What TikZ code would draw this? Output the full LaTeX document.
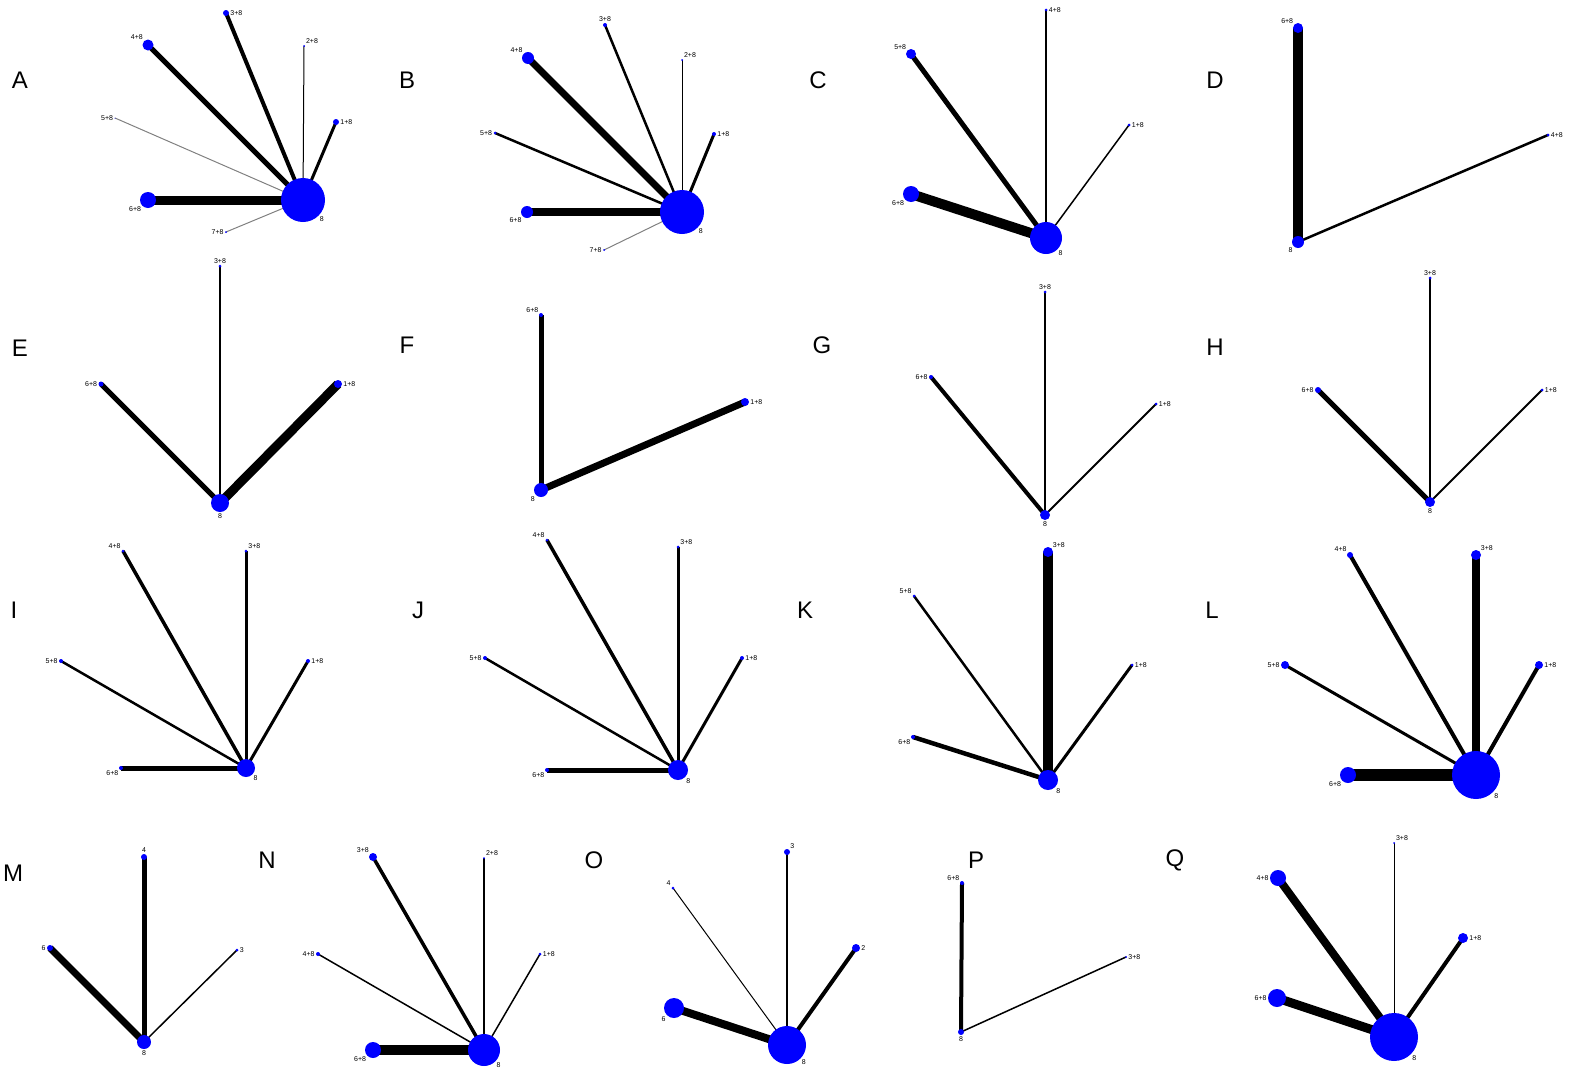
\documentclass[tikz,border=0pt]{standalone}
\usepackage{fontspec}
\setmainfont{Liberation Sans}
\usetikzlibrary{backgrounds}
\tikzset{nd/.style={circle,fill=blue,inner sep=0pt},
 lbl/.style={font=\fontsize{7}{8}\selectfont,inner sep=1pt,label distance=0pt},
 let/.style={font=\fontsize{24}{26}\selectfont,inner sep=0pt},
 eg/.style={black},
 gy/.style={gray,line width=1pt}}
\newcommand\nd[4]{\node[nd,minimum size=#3pt] (#1) at (#2) [label={[lbl]#4}] {};}
\newcommand\ed[3]{\draw[eg,line width=#3pt] (#1.center) -- (#2.center);}
\begin{document}
\begin{tikzpicture}[x=1pt,y=-1pt]
\useasboundingbox (0,0) rectangle (1584,1087);
% letters
\foreach \t/\x/\y in {A/20/80,B/407/80,C/818/80,D/1215/80,E/20/348,F/407/345,G/822/345,H/1215/347,I/14/610,J/418/610,K/805/610,L/1212/610,M/13/873,N/267/860,O/594/860,P/976/860,Q/1175/860}
  \node[let] (L\t) at (\x,\y) {\t};
% A
\nd{a8}{303,200}{44}{below right:8}
\nd{a4}{148,45}{11}{above left:4+8}
\nd{a3}{226,13}{6}{right:3+8}
\nd{a2}{304,46}{2}{above right:2+8}
\nd{a1}{336,122}{6}{right:1+8}
\nd{a5}{115,118}{1}{left:5+8}
\nd{a6}{148,200}{16}{below left:6+8}
\nd{a7}{226,232}{2}{left:7+8}
% B
\nd{b8}{682,212}{44}{below right:8}
\nd{b4}{528,58}{12}{above left:4+8}
\nd{b3}{605,25}{4}{above:3+8}
\nd{b2}{682,60}{2}{above right:2+8}
\nd{b1}{714,134}{4}{right:1+8}
\nd{b5}{495,133}{3}{left:5+8}
\nd{b6}{527,212}{12}{below left:6+8}
\nd{b7}{604,250}{2}{left:7+8}
% C
\nd{c8}{1046,238}{32}{below right:8}
\nd{c5}{911,54}{10}{above left:5+8}
\nd{c4}{1046,10}{3}{right:4+8}
\nd{c1}{1129,125}{3}{right:1+8}
\nd{c6}{911,194}{16}{below left:6+8}
% D
\nd{d8}{1298,242}{12}{below left:8}
\nd{d6}{1298,28}{10}{above left:6+8}
\nd{d4}{1548,135}{3}{right:4+8}
% E
\nd{e8}{220,503}{18}{below:8}
\nd{e3}{220,266}{3}{above:3+8}
\nd{e6}{101,384}{5}{left:6+8}
\nd{e1}{338,384}{8}{right:1+8}
% F
\nd{f8}{541,490}{14}{below left:8}
\nd{f6}{541,315}{4}{above left:6+8}
\nd{f1}{745,402}{8}{right:1+8}
% G
\nd{g8}{1045,515}{10}{below:8}
\nd{g3}{1045,292}{3}{above:3+8}
\nd{g6}{931,377}{4}{left:6+8}
\nd{g1}{1156,404}{3}{right:1+8}
% H
\nd{h8}{1430,502}{10}{below:8}
\nd{h3}{1430,278}{3}{above:3+8}
\nd{h6}{1318,390}{6}{left:6+8}
\nd{h1}{1542,390}{3}{right:1+8}
% I
\nd{i8}{246,768}{18}{below right:8}
\nd{i4}{123,551}{3}{above left:4+8}
\nd{i3}{246,551}{3}{above right:3+8}
\nd{i5}{61,661}{4}{left:5+8}
\nd{i1}{308,661}{4}{right:1+8}
\nd{i6}{121,768}{4}{below left:6+8}
% J
\nd{j8}{678,770}{20}{below right:8}
\nd{j4}{547,540}{3}{above left:4+8}
\nd{j3}{678,547}{3}{above right:3+8}
\nd{j5}{485,658}{4}{left:5+8}
\nd{j1}{742,658}{4}{right:1+8}
\nd{j6}{547,770}{4}{below left:6+8}
% K
\nd{k8}{1048,780}{20}{below right:8}
\nd{k3}{1048,552}{10}{above right:3+8}
\nd{k5}{914,596}{3}{above left:5+8}
\nd{k1}{1132,665}{3}{right:1+8}
\nd{k6}{913,737}{4}{below left:6+8}
% L
\nd{l8}{1476,775}{48}{below right:8}
\nd{l4}{1350,555}{6}{above left:4+8}
\nd{l3}{1476,555}{10}{above right:3+8}
\nd{l5}{1285,665}{8}{left:5+8}
\nd{l1}{1539,665}{8}{right:1+8}
\nd{l6}{1348,775}{16}{below left:6+8}
% M
\nd{m8}{144,1042}{14}{below:8}
\nd{m4}{144,857}{6}{above:4}
\nd{m6}{50,948}{6}{left:6}
\nd{m3}{237,950}{3}{right:3}
% N
\nd{n8}{484,1050}{32}{below right:8}
\nd{n3}{373,857}{8}{above left:3+8}
\nd{n2}{484,858}{2}{above right:2+8}
\nd{n4}{318,954}{4}{left:4+8}
\nd{n1}{540,954}{3}{right:1+8}
\nd{n6}{373,1050}{16}{below left:6+8}
% O
\nd{o8}{787,1045}{38}{below right:8}
\nd{o3}{787,852}{6}{above right:3}
\nd{o4}{673,888}{3}{above left:4}
\nd{o2}{856,948}{8}{right:2}
\nd{o6}{674,1008}{20}{below left:6}
% P
\nd{p8}{961,1032}{6}{below:8}
\nd{p6}{962,883}{4}{above left:6+8}
\nd{p3}{1126,957}{2}{right:3+8}
% Q
\nd{q8}{1394,1037}{48}{below right:8}
\nd{q3}{1394,843}{2}{above right:3+8}
\nd{q4}{1278,878}{16}{left:4+8}
\nd{q1}{1463,938}{10}{right:1+8}
\nd{q6}{1277,998}{18}{left:6+8}
\begin{scope}[on background layer]
\ed{a8}{a6}{9}\ed{a8}{a4}{5}\ed{a8}{a3}{4}\ed{a8}{a1}{3}\ed{a8}{a2}{1}
\draw[gy] (a8.center) -- (a5.center); \draw[gy] (a8.center) -- (a7.center);
\ed{b8}{b6}{8}\ed{b8}{b4}{7}\ed{b8}{b3}{2.5}\ed{b8}{b1}{3}\ed{b8}{b2}{1}\ed{b8}{b5}{2.5}
\draw[gy] (b8.center) -- (b7.center);
\ed{c8}{c6}{10}\ed{c8}{c5}{5}\ed{c8}{c4}{1.5}\ed{c8}{c1}{1.5}
\ed{d8}{d6}{10}\ed{d8}{d4}{2.5}
\ed{e8}{e3}{2}\ed{e8}{e6}{5}\ed{e8}{e1}{9}
\ed{f8}{f6}{5}\ed{f8}{f1}{7}
\ed{g8}{g3}{2}\ed{g8}{g6}{4}\ed{g8}{g1}{2}
\ed{h8}{h3}{2}\ed{h8}{h6}{5}\ed{h8}{h1}{2}
\ed{i8}{i4}{3.5}\ed{i8}{i3}{3}\ed{i8}{i5}{2.5}\ed{i8}{i1}{3}\ed{i8}{i6}{5}
\ed{j8}{j4}{3.5}\ed{j8}{j3}{3}\ed{j8}{j5}{2.5}\ed{j8}{j1}{3}\ed{j8}{j6}{5}
\ed{k8}{k3}{10}\ed{k8}{k5}{2.5}\ed{k8}{k1}{3}\ed{k8}{k6}{4.5}
\ed{l8}{l4}{4}\ed{l8}{l3}{8}\ed{l8}{l5}{3}\ed{l8}{l1}{4}\ed{l8}{l6}{12}
\ed{m8}{m4}{5}\ed{m8}{m6}{7}\ed{m8}{m3}{1.5}
\ed{n8}{n3}{3.5}\ed{n8}{n2}{1.5}\ed{n8}{n4}{1.5}\ed{n8}{n1}{1.5}\ed{n8}{n6}{10}
\ed{o8}{o3}{2}\ed{o8}{o4}{1}\ed{o8}{o2}{4}\ed{o8}{o6}{8}
\ed{p8}{p6}{4}\ed{p8}{p3}{1.5}
\ed{q8}{q3}{1}\ed{q8}{q4}{8}\ed{q8}{q1}{4}\ed{q8}{q6}{9}
\end{scope}
\end{tikzpicture}
\end{document}
